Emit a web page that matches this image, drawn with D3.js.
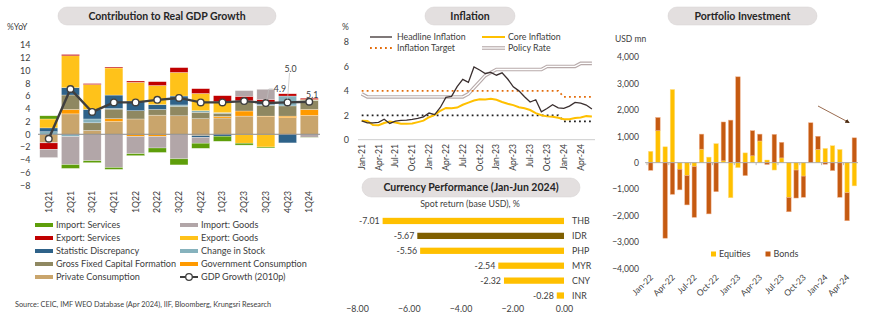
<!DOCTYPE html>
<html><head><meta charset="utf-8">
<script src="https://cdn.jsdelivr.net/npm/d3@7"></script>
<style>
html,body{margin:0;padding:0;background:#fff;}
svg{display:block;font-family:Lato,"Open Sans",sans-serif;}
</style></head>
<body><svg id="c" width="870" height="327"></svg>
<script>
// ---------- GDP contribution data ----------
const quarters = ["1Q21","2Q21","3Q21","4Q21","1Q22","2Q22","3Q22","4Q22","1Q23","2Q23","3Q23","4Q23","1Q24"];
const privateCons    = [-1.3, 3.2, 0.6, 2.0, 2.4, 3.0, 2.9, 2.45, 2.55, 2.85, 2.75, 2.6, 2.95];
const govCons        = [0.0, 0.7, 0.0, 0.45, -0.35, -0.35, 0.0, -0.2, 0.25, 0.8, 0.1, 0.25, 0.95];
const gfcf           = [-0.05, 2.26, 1.2, 1.5, 1.3, 0.9, 1.5, 1.0, 0.5, 1.6, 1.7, 1.6, 1.4];
const changeStock    = [0.4, -0.35, 0.6, 0.1, 0.0, 0.0, 0.2, 0.25, 0.1, 0.0, 0.1, 1.55, 0.05];
const statDisc       = [0.6, 1.15, 1.5, 2.1, 1.5, 0.75, 1.4, -0.3, -0.3, 0.0, 0.4, -1.35, 0.0];
const exportGoods    = [1.4, 5.0, 3.9, 4.25, 2.95, 3.0, 3.7, 2.7, 1.7, -1.4, -2.0, 0.0, 0.1];
const exportServices = [-1.0, 0.2, 0.15, 0.15, 0.2, 0.6, 0.75, 0.75, 0.95, 0.7, 0.4, 0.35, 0.2];
const importGoods    = [-1.3, -4.4, -4.15, -5.2, -2.7, -1.8, -3.85, -0.9, 0.0, 0.9, 1.6, 0.0, -0.5];
const importServices = [0.5, -0.6, -0.3, -0.3, -0.3, -0.7, -0.95, -0.8, -0.8, -0.3, -0.15, 0.0, -0.05];
const gdpGrowth      = [-0.7, 7.1, 3.5, 5.0, 5.0, 5.4, 5.7, 5.0, 5.0, 5.2, 4.9, 5.0, 5.1];
const gdpTicks = [14,12,10,8,6,4,2,0,-2,-4,-6,-8];

// ---------- Inflation data (Jan-21 .. Jun-24) ----------
const headline = [1.55,1.38,1.37,1.42,1.68,1.33,1.52,1.59,1.60,1.66,1.75,1.87,
                  2.18,2.06,2.64,3.47,3.55,4.35,4.94,4.69,5.95,5.71,5.42,5.51,
                  5.28,5.47,4.97,4.33,4.00,3.52,3.08,3.27,2.28,2.56,2.86,2.61,
                  2.57,2.75,3.05,3.00,2.84,2.51];
const core     = [1.56,1.53,1.21,1.18,1.37,1.49,1.40,1.31,1.30,1.33,1.44,1.56,
                  1.84,2.03,2.37,2.60,2.58,2.63,2.86,3.04,3.21,3.31,3.30,3.36,
                  3.27,3.09,2.94,2.83,2.66,2.58,2.43,2.18,2.00,1.91,1.87,1.80,
                  1.68,1.68,1.77,1.82,1.93,1.90];
const policyRate = [3.75,3.50,3.50,3.50,3.50,3.50,3.50,3.50,3.50,3.50,3.50,3.50,
                    3.50,3.50,3.50,3.50,3.50,3.50,3.50,3.75,4.25,4.75,5.25,5.50,
                    5.75,5.75,5.75,5.75,5.75,5.75,5.75,5.75,5.75,6.00,6.00,6.00,
                    6.00,6.00,6.00,6.25,6.25,6.25];
const targetUpper = [4,4,4,4,4,4,4,4,4,4,4,4, 4,4,4,4,4,4,4,4,4,4,4,4, 4,4,4,4,4,4,4,4,4,4,4,4, 3.5,3.5,3.5,3.5,3.5,3.5];
const targetLower = [2,2,2,2,2,2,2,2,2,2,2,2, 2,2,2,2,2,2,2,2,2,2,2,2, 2,2,2,2,2,2,2,2,2,2,2,2, 1.5,1.5,1.5,1.5,1.5,1.5];
const inflTickLabels = ["Jan-21","Apr-21","Jul-21","Oct-21","Jan-22","Apr-22","Jul-22","Oct-22","Jan-23","Apr-23","Jul-23","Oct-23","Jan-24","Apr-24"];
const inflTicks = [0,2,4,6,8];

// ---------- Currency data ----------
const currencies = ["THB","IDR","PHP","MYR","CNY","INR"];
const spotReturn = [-7.01,-5.67,-5.56,-2.54,-2.32,-0.28];
const fxTicks = [-8,-6,-4,-2,0];

// ---------- Portfolio data (Jan-22 .. May-24) ----------
const equities = [430,1210,600,2770,-250,-490,-150,510,210,720,70,-1330,-190,370,260,820,100,-280,180,-1320,-280,-510,0,500,540,640,500,-1140,-880];
const bonds    = [-290,500,-2860,-1200,-780,-1110,-1920,570,-1940,-1100,1470,1610,3250,-490,950,260,-70,1070,590,-540,-1060,-800,1510,500,-60,-300,-1310,-1060,940];
const pfTickLabels = ["Jan-22","Apr-22","Jul-22","Oct-22","Jan-23","Apr-23","Jul-23","Oct-23","Jan-24","Apr-24"];
const pfTicks = [4000,3000,2000,1000,0,-1000,-2000,-3000,-4000];

const svg = d3.select("#c");
const TXT = "#404040";

function pill(cx, cy, w, h, label, fs) {
  svg.append("rect").attr("x", cx - w/2).attr("y", cy - h/2).attr("width", w).attr("height", h)
     .attr("rx", h/2).attr("fill", "#E3DFDF").attr("stroke", "#D5D0D0").attr("stroke-width", 0.5);
  svg.append("text").attr("x", cx).attr("y", cy).attr("dy", "0.36em").attr("text-anchor", "middle")
     .attr("font-size", fs).attr("font-weight", "bold").attr("fill", "#262626").text(label);
}

// ================= GDP PANEL =================
(function(){
  const keys = ["privateCons","govCons","gfcf","changeStock","statDisc","exportGoods","exportServices","importGoods","importServices"];
  const arrs = {privateCons, govCons, gfcf, changeStock, statDisc, exportGoods, exportServices, importGoods, importServices};
  const colors = {privateCons:"#C9A56C", govCons:"#FF9A00", gfcf:"#8F8861", changeStock:"#86B2BD", statDisc:"#2E6289",
                  exportGoods:"#FFC21A", exportServices:"#C00000", importGoods:"#B2A6A8", importServices:"#5E9E0A"};
  const table = quarters.map((q,i)=>{ const o={q}; keys.forEach(k=>o[k]=arrs[k][i]); return o; });
  const stack = d3.stack().keys(keys).offset(d3.stackOffsetDiverging)(table);

  const x = d3.scaleBand().domain(quarters).range([38, 320]).paddingInner(0.17).paddingOuter(0.08);
  const y = d3.scaleLinear().domain([-8, 14]).range([185.3, 45]);

  pill(167, 16, 218, 18, "Contribution to Real GDP Growth", 10.5);
  svg.append("text").attr("x", 7).attr("y", 27).attr("dy","0.35em").attr("font-size", 8.5).attr("fill", TXT).text("%YoY");

  const ya = svg.append("g").attr("transform","translate(30.5,0)")
    .call(d3.axisLeft(y).tickValues(gdpTicks).tickSize(0).tickPadding(0).tickFormat(d3.format("d")));
  ya.select(".domain").remove();
  ya.selectAll("text").attr("font-size", 9).attr("fill", TXT).attr("font-family","Lato,sans-serif");

  stack.forEach(s=>{
    svg.append("g").selectAll("rect").data(s).join("rect")
      .attr("x", d=>x(d.data.q)).attr("width", x.bandwidth())
      .attr("y", d=>y(Math.max(d[0],d[1]))).attr("height", d=>Math.abs(y(d[0])-y(d[1])))
      .attr("fill", colors[s.key]).attr("stroke","#fff").attr("stroke-opacity",0.55).attr("stroke-width",0.5);
  });

  svg.append("line").attr("x1", 38).attr("x2", 320).attr("y1", y(0)).attr("y2", y(0))
     .attr("stroke","#8C8C8C").attr("stroke-width",1);

  const line = d3.line().x((d,i)=>x(quarters[i])+x.bandwidth()/2).y(d=>y(d));
  svg.append("path").attr("d", line(gdpGrowth)).attr("fill","none").attr("stroke","#3F3F3F").attr("stroke-width",2.4);
  svg.append("g").selectAll("circle").data(gdpGrowth).join("circle")
    .attr("cx",(d,i)=>x(quarters[i])+x.bandwidth()/2).attr("cy",d=>y(d)).attr("r",3.3)
    .attr("fill","#fff").attr("stroke","#3F3F3F").attr("stroke-width",1.4);

  // data labels with leader lines
  const cx = i => x(quarters[i]) + x.bandwidth()/2;
  svg.append("line").attr("x1", cx(10)+1).attr("y1", y(gdpGrowth[10])-3).attr("x2", cx(10)+3).attr("y2", 89)
     .attr("stroke","#BFBFBF").attr("stroke-width",0.7);
  svg.append("line").attr("x1", cx(10)+3).attr("y1", 89).attr("x2", cx(10)+7).attr("y2", 89)
     .attr("stroke","#BFBFBF").attr("stroke-width",0.7);
  svg.append("text").attr("x", cx(10)+8).attr("y", 89).attr("dy","0.35em").attr("font-size",8.8).attr("fill",TXT).text(gdpGrowth[10].toFixed(1));
  svg.append("line").attr("x1", cx(11)).attr("y1", y(gdpGrowth[11])-3).attr("x2", cx(11)+2).attr("y2", 73)
     .attr("stroke","#BFBFBF").attr("stroke-width",0.7);
  svg.append("text").attr("x", cx(11)+3).attr("y", 68.5).attr("dy","0.35em").attr("text-anchor","middle").attr("font-size",8.8).attr("fill",TXT).text(gdpGrowth[11].toFixed(1));
  svg.append("text").attr("x", cx(12)+3).attr("y", 95).attr("dy","0.35em").attr("text-anchor","middle").attr("font-size",8.8).attr("fill",TXT).text(gdpGrowth[12].toFixed(1));

  // x labels
  svg.append("g").selectAll("text").data(quarters).join("text")
    .attr("transform", d=>`translate(${x(d)+x.bandwidth()/2},191) rotate(-90)`)
    .attr("text-anchor","end").attr("dy","0.35em").attr("font-size",8.7).attr("fill",TXT).text(d=>d);

  // legend
  const leg = [
    ["Import: Services","importServices",0,0],["Import: Goods","importGoods",1,0],
    ["Export: Services","exportServices",0,1],["Export: Goods","exportGoods",1,1],
    ["Statistic Discrepancy","statDisc",0,2],["Change in Stock","changeStock",1,2],
    ["Gross Fixed Capital Formation","gfcf",0,3],["Government Consumption","govCons",1,3],
    ["Private Consumption","privateCons",0,4]];
  leg.forEach(([lab,k,c,r])=>{
    const lx = c ? 180 : 35, ly = 225 + r*13;
    svg.append("rect").attr("x",lx).attr("y",ly-2).attr("width",18).attr("height",4).attr("fill",colors[k]);
    svg.append("text").attr("x",lx+21).attr("y",ly).attr("dy","0.35em").attr("font-size",9.1).attr("fill",TXT).text(lab);
  });
  const gly = 225 + 4*13;
  svg.append("line").attr("x1",180).attr("x2",198).attr("y1",gly).attr("y2",gly).attr("stroke","#3F3F3F").attr("stroke-width",2);
  svg.append("circle").attr("cx",189).attr("cy",gly).attr("r",3.3).attr("fill","#fff").attr("stroke","#3F3F3F").attr("stroke-width",1.3);
  svg.append("text").attr("x",201).attr("y",gly).attr("dy","0.35em").attr("font-size",9.1).attr("fill",TXT).text("GDP Growth (2010p)");

  svg.append("text").attr("x",15).attr("y",304).attr("dy","0.35em").attr("font-size",7.3).attr("fill",TXT)
     .text("Source: CEIC, IMF WEO Database (Apr 2024), IIF, Bloomberg, Krungsri Research");
})();

// ================= INFLATION PANEL =================
(function(){
  const x = d3.scaleLinear().domain([0, headline.length-1]).range([361.7, 591.9]);
  const y = d3.scaleLinear().domain([0, 8]).range([139.7, 42]);
  pill(470, 16, 90, 18, "Inflation", 10.5);
  svg.append("text").attr("x",342).attr("y",27).attr("dy","0.35em").attr("font-size",8.5).attr("fill",TXT).text("%");
  const ya = svg.append("g").attr("transform","translate(349,0)")
    .call(d3.axisLeft(y).tickValues(inflTicks).tickSize(0).tickPadding(0));
  ya.select(".domain").remove();
  ya.selectAll("text").attr("font-size",9).attr("fill",TXT).attr("font-family","Lato,sans-serif");

  svg.append("line").attr("x1",358).attr("x2",595).attr("y1",y(0)).attr("y2",y(0)).attr("stroke","#BFBFBF").attr("stroke-width",0.8);

  const line = d3.line().x((d,i)=>x(i)).y(d=>y(d));
  svg.append("path").attr("d",line(policyRate)).attr("fill","none").attr("stroke","#B7AAAA").attr("stroke-width",3.6);
  svg.append("path").attr("d",line(policyRate)).attr("fill","none").attr("stroke","#fff").attr("stroke-width",1.3);
  svg.append("path").attr("d",line(targetUpper)).attr("fill","none").attr("stroke","#E36C0A").attr("stroke-width",1.8).attr("stroke-dasharray","1.8,3.2");
  svg.append("path").attr("d",line(targetLower)).attr("fill","none").attr("stroke","#1F1F1F").attr("stroke-width",1.8).attr("stroke-dasharray","1.8,3.2");
  svg.append("path").attr("d",line(core)).attr("fill","none").attr("stroke","#FFC000").attr("stroke-width",2);
  svg.append("path").attr("d",line(headline)).attr("fill","none").attr("stroke","#3A2F2F").attr("stroke-width",1.3);

  svg.append("g").selectAll("text").data(inflTickLabels).join("text")
    .attr("transform",(d,i)=>`translate(${x(i*3)},144) rotate(-90)`)
    .attr("text-anchor","end").attr("dy","0.35em").attr("font-size",8.6).attr("fill",TXT).text(d=>d);

  // legend
  const L = (x1,y0,lab)=>svg.append("text").attr("x",x1).attr("y",y0).attr("dy","0.35em").attr("font-size",8.8).attr("fill",TXT).text(lab);
  svg.append("line").attr("x1",370).attr("x2",392).attr("y1",37).attr("y2",37).attr("stroke","#3A2F2F").attr("stroke-width",1.3);
  L(397,37,"Headline Inflation");
  svg.append("line").attr("x1",482).attr("x2",505).attr("y1",37).attr("y2",37).attr("stroke","#FFC000").attr("stroke-width",2);
  L(508,37,"Core Inflation");
  svg.append("line").attr("x1",370).attr("x2",392).attr("y1",48).attr("y2",48).attr("stroke","#E36C0A").attr("stroke-width",1.8).attr("stroke-dasharray","1.8,3.2");
  L(397,48,"Inflation Target");
  svg.append("line").attr("x1",482).attr("x2",505).attr("y1",48).attr("y2",48).attr("stroke","#B7AAAA").attr("stroke-width",3.6);
  svg.append("line").attr("x1",482).attr("x2",505).attr("y1",48).attr("y2",48).attr("stroke","#fff").attr("stroke-width",1.3);
  L(508,48,"Policy Rate");
})();

// ================= CURRENCY PANEL =================
(function(){
  const x = d3.scaleLinear().domain([-8, 0]).range([357, 564]);
  const y = d3.scaleBand().domain(currencies).range([213.5, 303]).paddingInner(0.58).paddingOuter(0.29);
  pill(471, 187.5, 218, 19, "Currency Performance (Jan-Jun 2024)", 10.5);
  svg.append("text").attr("x",470).attr("y",204).attr("dy","0.35em").attr("text-anchor","middle").attr("font-size",8.8).attr("fill",TXT).text("Spot return (base USD), %");
  svg.append("g").selectAll("rect").data(currencies).join("rect")
    .attr("x",(d,i)=>x(spotReturn[i])).attr("width",(d,i)=>x(0)-x(spotReturn[i]))
    .attr("y",d=>y(d)).attr("height",y.bandwidth())
    .attr("fill",d=>d==="IDR"?"#7F5F00":"#FFC000");
  svg.append("g").selectAll("text").data(currencies).join("text")
    .attr("x",(d,i)=>x(spotReturn[i])-3).attr("y",d=>y(d)+y.bandwidth()/2).attr("dy","0.35em")
    .attr("text-anchor","end").attr("font-size",8.8).attr("fill",TXT).text((d,i)=>spotReturn[i].toFixed(2));
  svg.append("g").selectAll("text.c").data(currencies).join("text")
    .attr("x",572).attr("y",d=>y(d)+y.bandwidth()/2).attr("dy","0.35em")
    .attr("font-size",8.8).attr("fill",TXT).text(d=>d);
  const xa = svg.append("g").attr("transform","translate(0,306)")
    .call(d3.axisBottom(x).tickValues(fxTicks).tickSize(0).tickPadding(0).tickFormat(d3.format(".2f")));
  xa.select(".domain").remove();
  xa.selectAll("text").attr("font-size",8.8).attr("fill",TXT).attr("font-family","Lato,sans-serif");
})();

// ================= PORTFOLIO PANEL =================
(function(){
  const idx = d3.range(equities.length);
  const x = d3.scaleBand().domain(idx).range([647, 858]).paddingInner(0.38).paddingOuter(0.19);
  const y = d3.scaleLinear().domain([-4000, 4000]).range([268.3, 57]);
  pill(742.5, 16, 149, 18, "Portfolio Investment", 10.5);
  svg.append("text").attr("x",615).attr("y",39).attr("dy","0.35em").attr("font-size",8.5).attr("fill",TXT).text("USD mn");
  const ya = svg.append("g").attr("transform","translate(639,0)")
    .call(d3.axisLeft(y).tickValues(pfTicks).tickSize(0).tickPadding(0).tickFormat(d3.format(",")));
  ya.select(".domain").remove();
  ya.selectAll("text").attr("font-size",8.6).attr("fill",TXT).attr("font-family","Lato,sans-serif");

  const table = idx.map(i=>({i, equities:equities[i], bonds:bonds[i]}));
  const stack = d3.stack().keys(["equities","bonds"]).offset(d3.stackOffsetDiverging)(table);
  const col = {equities:"#FFC000", bonds:"#C55A11"};
  const edge = {equities:"#FFE08A", bonds:"#F0B08A"};
  stack.forEach(s=>{
    svg.append("g").selectAll("rect").data(s).join("rect")
      .attr("x",d=>x(d.data.i)).attr("width",x.bandwidth())
      .attr("y",d=>y(Math.max(d[0],d[1]))).attr("height",d=>Math.abs(y(d[0])-y(d[1])))
      .attr("fill",col[s.key]).attr("stroke",edge[s.key]).attr("stroke-width",0.5);
  });
  svg.append("line").attr("x1",645).attr("x2",858).attr("y1",y(0)).attr("y2",y(0)).attr("stroke","#A6A6A6").attr("stroke-width",0.9);
  const step = x.step();
  const tickX = idx.filter(i=>i%3===0).map(i=>x(i)-(step-x.bandwidth())/2);
  svg.append("g").selectAll("line").data(tickX).join("line")
    .attr("x1",d=>d).attr("x2",d=>d).attr("y1",y(0)).attr("y2",y(0)+2.5).attr("stroke","#A6A6A6").attr("stroke-width",0.8);

  svg.append("g").selectAll("text").data(pfTickLabels).join("text")
    .attr("transform",(d,i)=>`translate(${x(i*3)+x.bandwidth()/2+3},278) rotate(-45)`)
    .attr("text-anchor","end").attr("font-size",8.5).attr("fill",TXT).text(d=>d);

  // legend
  svg.append("rect").attr("x",711).attr("y",251.5).attr("width",5).attr("height",5).attr("fill",col.equities);
  svg.append("text").attr("x",719).attr("y",254).attr("dy","0.35em").attr("font-size",9).attr("fill",TXT).text("Equities");
  svg.append("rect").attr("x",765.5).attr("y",251.5).attr("width",5).attr("height",5).attr("fill",col.bonds);
  svg.append("text").attr("x",773.5).attr("y",254).attr("dy","0.35em").attr("font-size",9).attr("fill",TXT).text("Bonds");

  // arrow
  svg.append("defs").append("marker").attr("id","ah").attr("viewBox","0 0 10 10").attr("refX",8).attr("refY",5)
    .attr("markerWidth",4.5).attr("markerHeight",4.5).attr("orient","auto")
    .append("path").attr("d","M0,0L10,5L0,10z").attr("fill","#4A2A10");
  svg.append("line").attr("x1",818).attr("y1",106).attr("x2",849).attr("y2",122.5)
    .attr("stroke","#9A6C50").attr("stroke-width",1).attr("marker-end","url(#ah)");
})();
</script></body></html>
